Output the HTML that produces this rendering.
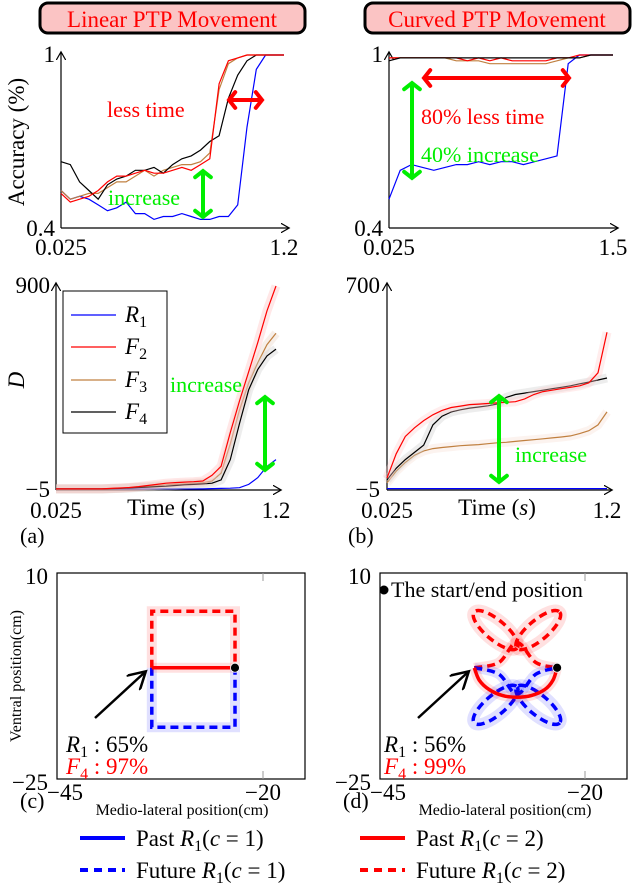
<!DOCTYPE html>
<html><head><meta charset="utf-8"><style>
body{margin:0;background:#fff}
svg{display:block}
svg text{font-family:"Liberation Serif","DejaVu Serif",serif}
</style></head><body>
<svg id="fig" width="640" height="886" viewBox="0 0 640 886" font-family="Liberation Serif, serif">
<defs>
<marker id="ah" markerWidth="8" markerHeight="8" refX="6" refY="4" orient="auto"><path d="M0,0 L7,4 L0,8" fill="none" stroke="#000" stroke-width="1"/></marker>
</defs>
<g>
<rect x="40" y="3" width="265" height="30" rx="8" fill="#fbc4c4" stroke="#000" stroke-width="3"/>
<text x="172" y="27" font-size="23" fill="#f00" text-anchor="middle">Linear PTP Movement</text></g>
<g>
<rect x="365" y="3" width="265" height="30" rx="8" fill="#fbc4c4" stroke="#000" stroke-width="3"/>
<text x="497" y="27" font-size="23" fill="#f00" text-anchor="middle">Curved PTP Movement</text></g>
<g id="plots"></g>
</svg>
<script>
// ---- data ----
const tA = [0.025,0.074,0.123,0.172,0.221,0.270,0.319,0.368,0.417,0.466,0.515,0.564,0.613,0.662,0.711,0.760,0.809,0.858,0.907,0.956,1.005,1.054,1.103,1.152,1.2];
const accLinBlack = [0.63,0.62,0.56,0.53,0.50,0.55,0.57,0.58,0.60,0.60,0.61,0.59,0.62,0.64,0.65,0.67,0.70,0.72,0.85,0.93,0.98,1,1,1,1];
const accLinRed   = [0.52,0.49,0.50,0.51,0.53,0.56,0.58,0.58,0.59,0.60,0.59,0.59,0.60,0.61,0.60,0.62,0.64,0.90,0.98,0.99,1,1,1,1,1];
const accLinBrown = [0.53,0.50,0.51,0.52,0.52,0.54,0.56,0.56,0.58,0.60,0.58,0.60,0.61,0.62,0.62,0.63,0.66,0.88,0.97,0.99,1,1,1,1,1];
const accLinBlue  = [0.53,0.50,0.51,0.50,0.48,0.46,0.47,0.49,0.45,0.45,0.43,0.44,0.44,0.45,0.44,0.43,0.43,0.44,0.44,0.48,0.75,0.95,1,1,1];
const tB = [0.025,0.099,0.173,0.246,0.320,0.394,0.468,0.541,0.615,0.689,0.763,0.836,0.910,0.984,1.058,1.131,1.205,1.279,1.353,1.426,1.5];
const accCurBlue  = [0.50,0.60,0.62,0.61,0.60,0.61,0.62,0.62,0.63,0.62,0.63,0.63,0.62,0.63,0.64,0.65,0.97,1,1,1,1];
const accCurBlack = [0.98,0.99,0.99,0.99,0.99,0.99,0.99,0.99,0.99,0.99,0.99,0.99,0.99,0.99,0.99,0.99,0.99,0.99,1,1,1];
const accCurRed   = [0.99,0.99,0.99,0.99,0.99,0.99,0.99,0.98,0.99,0.98,0.99,0.98,0.98,0.98,0.98,0.99,0.99,1,1,1,1];
const accCurBrown = [0.99,0.99,0.99,0.99,0.99,0.99,0.98,0.98,0.98,0.97,0.97,0.97,0.97,0.97,0.97,0.98,0.99,0.99,1,1,1];
const dLinRed   = [0,0,0,0,0,0,2,4,6,10,15,20,25,28,30,32,35,60,100,250,390,520,650,790,900];
const dLinBlack = [0,0,0,0,0,0,1,2,4,6,8,10,12,15,18,20,22,25,40,130,290,440,530,590,620];
const dLinBrown = [0,0,0,0,0,0,1,3,5,8,10,14,18,20,22,25,28,35,70,200,350,470,560,640,690];
const dLinBlue  = [0,0,0,0,0,0,0,0,0,0,0,0,0,0,0,0,0,1,2,3,5,20,50,100,130];
const dCurRed   = [36,120,180,210,235,255,270,280,285,290,292,294,296,298,300,310,325,335,340,345,350,355,365,400,540];
const dCurBlack = [30,70,100,125,150,220,250,265,272,278,282,286,292,315,325,330,335,340,345,350,355,362,368,375,382];
const dCurBrown = [20,60,90,115,130,138,142,145,148,150,152,155,158,160,163,166,169,172,175,178,182,190,200,220,265];
const dCurBlue  = [0,0,0,0,0,0,0,0,0,0,0,0,0,0,0,0,0,0,0,0,0,0,0,0,0];
// trajectory data (cm)
const sqX = [-33.5,-33.5,-23.4,-23.4];
const sqTopY = [-6.1,3.5,3.5,-6.1];
const sqBotY = [-6.1,-16.2,-16.2,-6.1];
const pastLinX = [-33.5,-23.4];
const pastLinY = [-6.1,-6.1];
const arcX = [-33.5,-32.9,-31.7,-30.1,-28.3,-26.5,-24.9,-23.9,-23.4];
const arcY = [-6.1,-8.2,-9.8,-10.8,-11.1,-10.8,-9.8,-8.2,-6.1];
const redConnX = [-33.5,-30.5,-28.3,-26,-23.4];
const redConnY = [-6.1,-5.2,-1.8,-5.2,-6.1];
const blueConnX = [-33.5,-30.5,-28.3,-26,-23.4];
const blueConnY = [-6.1,-7.2,-10.6,-7.2,-6.1];
const petalCx = [-30.9,-25.7,-30.9,-25.7];
const petalCy = [0.3,0.3,-12.4,-12.4];
const petalAng = [40,-40,-40,40];
const petalColor = ['#f00','#f00','#00f','#00f'];

const NS='http://www.w3.org/2000/svg';
const root=document.getElementById('plots');
function el(tag,attrs,parent,txt){const e=document.createElementNS(NS,tag);for(const k in attrs)e.setAttribute(k,attrs[k]);if(txt!==undefined)e.textContent=txt;(parent||root).appendChild(e);return e;}
function lin(d0,d1,p0,p1){return v=>p0+(v-d0)/(d1-d0)*(p1-p0);}

function axes(g,x0,x1,y0,y1){
  el('line',{x1:x0,y1:y0,x2:x1+3,y2:y0,stroke:'#000','stroke-width':1.2,'marker-end':'url(#ah)'},g);
  el('line',{x1:x0,y1:y0,x2:x0,y2:y1-2,stroke:'#000','stroke-width':1.2,'marker-end':'url(#ah)'},g);
}
function series(g,xs,ys,sx,sy,color,name,band){
  const d=xs.map((x,i)=>(i?'L':'M')+sx(x).toFixed(1)+','+sy(ys[i]).toFixed(1)).join(' ');
  if(band){const b=el('path',{d:d,fill:'none',stroke:band,'stroke-width':9,'stroke-opacity':0.35,'stroke-linejoin':'round'},g);
    
    }
  const p=el('path',{d:d,fill:'none',stroke:color,'stroke-width':1.2},g);
  
  
}
function dblArrow(g,x1,y1,x2,y2,c,name){
  const gg=el('g',{},g);
  
  
  el('line',{x1:x1,y1:y1,x2:x2,y2:y2,stroke:c,'stroke-width':4},gg);
  const ang=Math.atan2(y2-y1,x2-x1);
  [[x1,y1,ang+Math.PI],[x2,y2,ang]].forEach(([x,y,a])=>{
    const L=10,s=0.9;
    el('path',{d:`M${x-L*Math.cos(a-s)},${y-L*Math.sin(a-s)} L${x},${y} L${x-L*Math.cos(a+s)},${y-L*Math.sin(a+s)}`,fill:'none',stroke:c,'stroke-width':4,'stroke-linecap':'round'},gg);
  });
}
function txt(g,x,y,s,opts,name){const t=el('text',Object.assign({x:x,y:y,'font-size':20},opts||{}),g,s);
  
  return t;}

// ---- A1 ----
{const g=el('g',{});
 const sx=lin(0.025,1.2,61,284), sy=lin(0.4,1,228,55);
 axes(g,61,285,228,55);
 series(g,tA,accLinBlue,sx,sy,'#00f','acc-linear-r1');
 series(g,tA,accLinBrown,sx,sy,'#c08040','acc-linear-f3');
 series(g,tA,accLinBlack,sx,sy,'#000','acc-linear-f4');
 series(g,tA,accLinRed,sx,sy,'#f00','acc-linear-f2');
 txt(g,55,62,'1',{'font-size':23,'text-anchor':'end'},'y-tick-1');
 txt(g,55,236,'0.4',{'font-size':23,'text-anchor':'end'},'y-tick-0-4');
 txt(g,61,255,'0.025',{'font-size':23,'text-anchor':'middle'},'x-tick-0-025');
 txt(g,284,255,'1.2',{'font-size':23,'text-anchor':'middle'},'x-tick-1-2');
 txt(g,0,0,'Accuracy (%)',{'font-size':23,'text-anchor':'middle',transform:'translate(24,142) rotate(-90)'},'y-axis-title-accuracy');
 dblArrow(g,229,100,262,100,'#f00','less-time-arrow');
 txt(g,107,117,'less time',{'font-size':22,fill:'#f00'},'less-time-label');
 dblArrow(g,203,171,203,217,'#0e0','increase-arrow');
 txt(g,108,205,'increase',{'font-size':22,fill:'#0e0'},'increase-label');}
// ---- B1 ----
{const g=el('g',{});
 const sx=lin(0.025,1.5,389,613), sy=lin(0.4,1,228,55);
 axes(g,389,614,228,55);
 series(g,tB,accCurBlue,sx,sy,'#00f','acc-curved-r1');
 series(g,tB,accCurBrown,sx,sy,'#c08040','acc-curved-f3');
 series(g,tB,accCurRed,sx,sy,'#f00','acc-curved-f2');
 series(g,tB,accCurBlack,sx,sy,'#000','acc-curved-f4');
 txt(g,383,62,'1',{'font-size':23,'text-anchor':'end'},'y-tick-1');
 txt(g,383,236,'0.4',{'font-size':23,'text-anchor':'end'},'y-tick-0-4');
 txt(g,389,255,'0.025',{'font-size':23,'text-anchor':'middle'},'x-tick-0-025');
 txt(g,613,255,'1.5',{'font-size':23,'text-anchor':'middle'},'x-tick-1-5');
 dblArrow(g,424,78,569,78,'#f00','less-time-arrow');
 txt(g,421,124,'80% less time',{'font-size':22,fill:'#f00'},'less-time-label');
 dblArrow(g,412,83,412,178,'#0e0','increase-arrow');
 txt(g,421,162,'40% increase',{'font-size':22,fill:'#0e0'},'increase-label');}
// ---- A2 ----
{const g=el('g',{});
 const sx=lin(0.025,1.2,56,276), sy=lin(-5,900,490,286);
 axes(g,56,277,490,286);
 series(g,tA,dLinBlue,sx,sy,'#00f','d-linear-r1');
 series(g,tA,dLinBrown,sx,sy,'#c08040','d-linear-f3','#e8d0c0');
 series(g,tA,dLinBlack,sx,sy,'#000','d-linear-f4','#ccc');
 series(g,tA,dLinRed,sx,sy,'#f00','d-linear-f2','#fbb');
 txt(g,50,293,'900',{'font-size':23,'text-anchor':'end'},'y-tick-900');
 txt(g,50,497,'−5',{'font-size':23,'text-anchor':'end'},'y-tick-neg5');
 txt(g,56,518,'0.025',{'font-size':23,'text-anchor':'middle'},'x-tick-0-025');
 txt(g,276,518,'1.2',{'font-size':23,'text-anchor':'middle'},'x-tick-1-2');
 const tt=txt(g,166,515,'',{'font-size':23,'text-anchor':'middle'},'x-axis-title-time');tt.innerHTML='Time (<tspan font-style="italic">s</tspan>)';
 txt(g,0,0,'D',{'font-size':23,'font-style':'italic','text-anchor':'middle',transform:'translate(24,380) rotate(-90)'},'y-axis-title-d');
 txt(g,20,543,'(a)',{'font-size':22},'panel-label-a');
 const lg=el('g',{},g);
 el('rect',{x:63,y:291,width:104,height:142,fill:'#fff',stroke:'#000','stroke-width':1},lg);
 const names=['R','F','F','F'],subs=['1','2','3','4'],cols=['#00f','#f00','#c08040','#000'],ly=[315,347,380,412];
 for(let i=0;i<4;i++){const e=el('g',{},lg);
  el('line',{x1:71,y1:ly[i],x2:116,y2:ly[i],stroke:cols[i],'stroke-width':1.2},e);
  const t=el('text',{x:125,y:ly[i]+7,'font-size':23,'font-style':'italic'},e,names[i]);
  el('tspan',{'font-size':16,'font-style':'normal',dy:5},t,subs[i]);}
 txt(g,170,392,'increase',{'font-size':22,fill:'#0e0'},'increase-label');
 dblArrow(g,265,397,265,470,'#0e0','increase-arrow');}
// ---- B2 ----
{const g=el('g',{});
 const sx=lin(0.025,1.2,387,607), sy=lin(-5,700,490,286);
 axes(g,387,608,490,286);
 series(g,tA,dCurBrown,sx,sy,'#c08040','d-curved-f3','#f5dcd0');
 series(g,tA,dCurBlack,sx,sy,'#000','d-curved-f4','#ccc');
 series(g,tA,dCurRed,sx,sy,'#f00','d-curved-f2','#fcc');
 series(g,tA,dCurBlue,sx,sy,'#00f','d-curved-r1');
 txt(g,380,293,'700',{'font-size':23,'text-anchor':'end'},'y-tick-700');
 txt(g,380,497,'−5',{'font-size':23,'text-anchor':'end'},'y-tick-neg5');
 txt(g,387,518,'0.025',{'font-size':23,'text-anchor':'middle'},'x-tick-0-025');
 txt(g,607,518,'1.2',{'font-size':23,'text-anchor':'middle'},'x-tick-1-2');
 const tt=txt(g,497,515,'',{'font-size':23,'text-anchor':'middle'},'x-axis-title-time');tt.innerHTML='Time (<tspan font-style="italic">s</tspan>)';
 txt(g,348,543,'(b)',{'font-size':22},'panel-label-b');
 dblArrow(g,499,396,499,482,'#0e0','increase-arrow');
 txt(g,515,462,'increase',{'font-size':22,fill:'#0e0'},'increase-label');}
// ---- trajectory panels ----
function trajPanel(name,bx0,bx1,x20,label,lx){
  const g=el('g',{});
  el('rect',{x:bx0,y:573,width:bx1-bx0,height:206,fill:'#fff',stroke:'#000','stroke-width':1.2},g);
  el('line',{x1:x20,y1:573,x2:x20,y2:581,stroke:'#999'},g);el('line',{x1:x20,y1:771,x2:x20,y2:779,stroke:'#999'},g);
  txt(g,bx0-9,584,'10',{'font-size':23,'text-anchor':'end'},'y-tick-10');
  txt(g,bx0-9,790,'−25',{'font-size':23,'text-anchor':'end'},'y-tick-neg25');
  txt(g,bx0+8,800,'−45',{'font-size':23,'text-anchor':'middle'},'x-tick-neg45');
  txt(g,x20,800,'−20',{'font-size':23,'text-anchor':'middle'},'x-tick-neg20');
  txt(g,bx0+125,815,'Medio-lateral position(cm)',{'font-size':16,'text-anchor':'middle'},'x-axis-title');
  txt(g,lx,808,label,{'font-size':22},'panel-label');
  return {g:g,sx:lin(-45,-20,bx0,x20),sy:lin(10,-25,573,779)};
}
function pathXY(g,xs,ys,sx,sy,c,dash,name,smooth){
  const pts=xs.map((x,i)=>[sx(x),sy(ys[i])]);
  let d='M'+pts[0][0].toFixed(1)+','+pts[0][1].toFixed(1);
  if(smooth){for(let i=1;i<pts.length;i++){const p0=pts[Math.max(i-2,0)],p1=pts[i-1],p2=pts[i],p3=pts[Math.min(i+1,pts.length-1)];
    d+=` C${(p1[0]+(p2[0]-p0[0])/6).toFixed(1)},${(p1[1]+(p2[1]-p0[1])/6).toFixed(1)} ${(p2[0]-(p3[0]-p1[0])/6).toFixed(1)},${(p2[1]-(p3[1]-p1[1])/6).toFixed(1)} ${p2[0].toFixed(1)},${p2[1].toFixed(1)}`;}}
  else d+=pts.slice(1).map(p=>' L'+p[0].toFixed(1)+','+p[1].toFixed(1)).join('');
  el('path',{d:d,fill:'none',stroke:c,'stroke-width':10,'stroke-opacity':0.12},g);
  const p=el('path',{d:d,fill:'none',stroke:c,'stroke-width':3.5,'stroke-dasharray':dash||'none'},g);
  
  
}
{const P=trajPanel('trajectory-linear',57,305,263,'(c)',20);const g=P.g;
 txt(g,0,0,'Ventral position(cm)',{'font-size':16,'text-anchor':'middle',transform:'translate(21,676) rotate(-90)'},'y-axis-title');
 pathXY(g,sqX,sqTopY,P.sx,P.sy,'#f00','8,5','future-r1-red');
 pathXY(g,sqX,sqBotY,P.sx,P.sy,'#00f','8,5','future-r1-blue');
 pathXY(g,pastLinX,pastLinY,P.sx,P.sy,'#f00',null,'past-r1-red');
 el('circle',{cx:P.sx(-23.4),cy:P.sy(-6.1),r:4.5,fill:'#000',stroke:'#fff','stroke-width':0.8},g);
 el('line',{x1:95,y1:718,x2:144,y2:673,stroke:'#000','stroke-width':2.5,'marker-end':'url(#ah)'},g);
 const t1=txt(g,66,752,'',{'font-size':23},'r1-accuracy');t1.innerHTML='<tspan font-style="italic">R</tspan><tspan font-size="16" dy="5">1</tspan><tspan dy="-5"> : 65%</tspan>';
 const t2=txt(g,66,774,'',{'font-size':23,fill:'#f00'},'f4-accuracy');t2.innerHTML='<tspan font-style="italic">F</tspan><tspan font-size="16" dy="5">4</tspan><tspan dy="-5"> : 97%</tspan>';}
{const P=trajPanel('trajectory-curved',380,627,585,'(d)',343);const g=P.g;
 for(let i=0;i<4;i++){
  const cx=P.sx(petalCx[i]),cy=P.sy(petalCy[i]);
  el('ellipse',{cx:cx,cy:cy,rx:28,ry:10,transform:`rotate(${petalAng[i]} ${cx} ${cy})`,fill:'none',stroke:petalColor[i],'stroke-width':12,'stroke-opacity':0.12},g);
  const e=el('ellipse',{cx:cx,cy:cy,rx:28,ry:10,transform:`rotate(${petalAng[i]} ${cx} ${cy})`,fill:'none',stroke:petalColor[i],'stroke-width':3.5,'stroke-dasharray':'8,5'},g);
  
  }
 pathXY(g,redConnX,redConnY,P.sx,P.sy,'#f00','8,5','future-r1-red-connector',true);
 pathXY(g,blueConnX,blueConnY,P.sx,P.sy,'#00f','8,5','future-r1-blue-connector',true);
 pathXY(g,arcX,arcY,P.sx,P.sy,'#f00',null,'past-r1-red-arc',true);
 el('circle',{cx:P.sx(-23.4),cy:P.sy(-6.1),r:4.5,fill:'#000',stroke:'#fff','stroke-width':0.8},g);
 el('circle',{cx:384,cy:590,r:4.5,fill:'#000'},g);
 txt(g,391,597,'The start/end position',{'font-size':22},'start-end-label');
 el('line',{x1:418,y1:718,x2:467,y2:673,stroke:'#000','stroke-width':2.5,'marker-end':'url(#ah)'},g);
 const t1=txt(g,384,752,'',{'font-size':23},'r1-accuracy');t1.innerHTML='<tspan font-style="italic">R</tspan><tspan font-size="16" dy="5">1</tspan><tspan dy="-5"> : 56%</tspan>';
 const t2=txt(g,384,774,'',{'font-size':23,fill:'#f00'},'f4-accuracy');t2.innerHTML='<tspan font-style="italic">F</tspan><tspan font-size="16" dy="5">4</tspan><tspan dy="-5"> : 99%</tspan>';}
// ---- bottom legend ----
{const g=el('g',{});
 const items=[[80,838,'#00f',null,'Past ','1'],[80,870,'#00f','8,6','Future ','1'],[360,838,'#f00',null,'Past ','2'],[360,870,'#f00','8,6','Future ','2']];
 items.forEach(([x,y,c,dash,w,n])=>{const e=el('g',{},g);
  
  
  el('line',{x1:x,y1:y,x2:x+45,y2:y,stroke:c,'stroke-width':4,'stroke-dasharray':dash||'none'},e);
  const t=el('text',{x:x+56,y:y+8,'font-size':23},e);
  t.innerHTML=w+'<tspan font-style="italic">R</tspan><tspan font-size="16" dy="5">1</tspan><tspan dy="-5">(</tspan><tspan font-style="italic">c</tspan> = '+n+')';});}
</script>
</body></html>
